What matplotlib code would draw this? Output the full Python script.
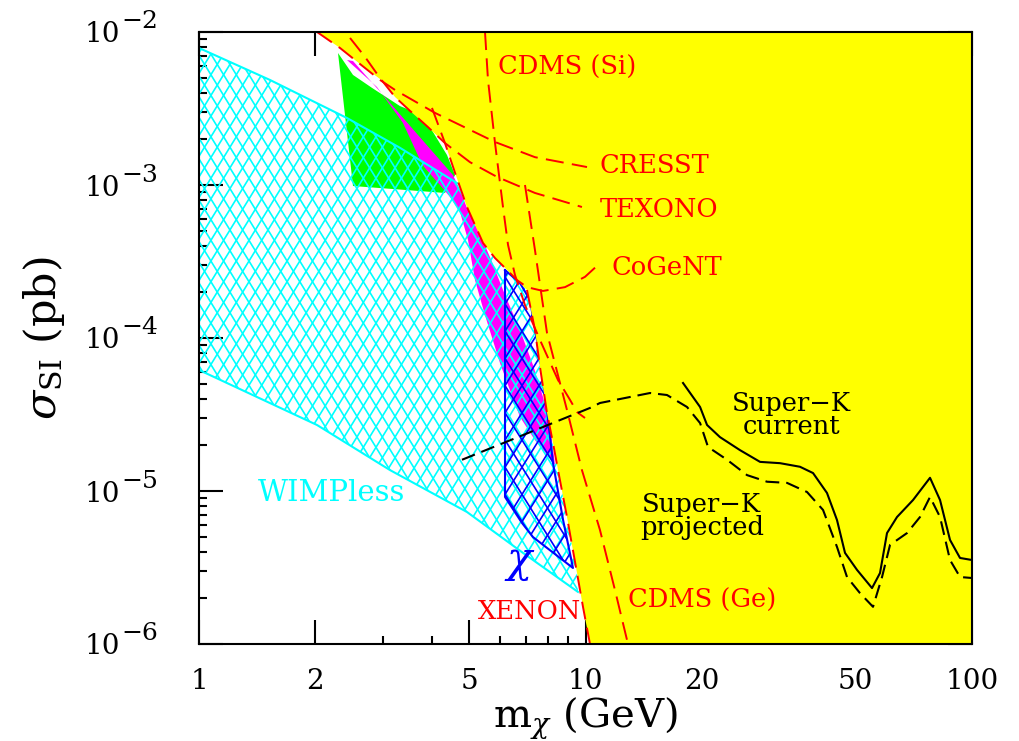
import numpy as np
import matplotlib
matplotlib.use('Agg')
import matplotlib.pyplot as plt
from matplotlib.patches import Polygon
from matplotlib.lines import Line2D
from matplotlib.ticker import FixedLocator, FuncFormatter, LogLocator, NullFormatter

plt.rcParams['font.family'] = 'DejaVu Serif'
plt.rcParams['mathtext.fontset'] = 'dejavuserif'
plt.rcParams['lines.scale_dashes'] = False

# ---- data (mass in GeV, cross section in pb) ----
excluded_mass = [2.02, 2.317, 2.609, 2.94, 3.215, 3.516, 3.913, 4.329, 4.597, 4.936,
                 5.431, 5.833, 6.191, 6.65, 7.056, 7.40, 7.625, 7.95, 8.241, 8.49,
                 8.956, 9.507, 9.851, 10.27]
excluded_sigma = [1.0e-2, 7.86e-3, 6.18e-3, 4.93e-3, 3.76e-3, 3.05e-3, 2.39e-3, 1.88e-3,
                  1.20e-3, 7.18e-4, 4.18e-4, 3.33e-4, 2.87e-4, 2.39e-4, 2.06e-4, 1.13e-4,
                  6.46e-5, 3.24e-5, 2.06e-5, 1.37e-5, 6.76e-6, 2.91e-6, 1.75e-6, 1.0e-6]

cresst_mass = [2.02, 2.317, 2.609, 2.94, 3.215, 4.079, 5.833, 7.40, 10.09]
cresst_sigma = [1.0e-2, 7.86e-3, 6.18e-3, 4.86e-3, 4.18e-3, 2.96e-3, 1.91e-3, 1.52e-3, 1.31e-3]

texono_mass = [2.459, 2.689, 2.94, 3.215, 3.516, 3.913, 4.329, 5.025, 5.902, 7.40, 9.79]
texono_sigma = [9.14e-3, 6.87e-3, 5.00e-3, 3.76e-3, 3.05e-3, 2.39e-3, 1.88e-3, 1.41e-3,
                1.13e-3, 8.87e-4, 7.18e-4]

cogent_mass = [4.007, 4.329, 4.597, 4.936, 5.431, 5.833, 6.191, 6.65, 7.056, 7.762,
               8.851, 9.97, 10.77]
cogent_sigma = [3.19e-3, 1.88e-3, 1.20e-3, 7.18e-4, 4.18e-4, 3.33e-4, 2.87e-4, 2.39e-4,
                2.15e-4, 2.03e-4, 2.15e-4, 2.51e-4, 3.00e-4]

cdms_si_mass = [5.495, 5.594, 5.833, 6.117, 6.303, 6.57, 6.973, 7.625, 8.49, 9.12, 9.507, 9.97]
cdms_si_sigma = [1.0e-2, 4.86e-3, 1.88e-3, 7.18e-4, 4.06e-4, 2.58e-4, 1.64e-4, 9.71e-5,
                 5.31e-5, 3.94e-5, 3.28e-5, 3.00e-5]

cdms_ge_mass = [6.973, 7.40, 7.95, 8.956, 9.79, 10.90, 11.92, 12.88]
cdms_ge_sigma = [1.0e-3, 3.76e-4, 1.08e-4, 3.38e-5, 1.37e-5, 5.56e-6, 2.25e-6, 1.0e-6]

xenon_mass = [7.056, 7.40, 7.625, 7.95, 8.241, 8.49, 8.956, 9.507, 9.851, 10.27]
xenon_sigma = [2.06e-4, 1.13e-4, 6.46e-5, 3.24e-5, 2.06e-5, 1.37e-5, 6.76e-6, 2.91e-6,
               1.75e-6, 1.0e-6]

dama_mass = [2.289, 2.503, 2.804, 3.311, 3.557, 3.96, 4.382, 4.597, 4.329, 2.503]
dama_sigma = [7.29e-3, 5.24e-3, 4.31e-3, 3.28e-3, 3.05e-3, 2.39e-3, 1.57e-3, 1.16e-3,
              8.87e-4, 9.85e-4]

dama_ch_mass = [2.415, 2.503, 3.12, 4.542, 4.735, 4.936, 5.431, 5.73, 6.191, 6.768,
                7.313, 7.762, 8.095, 8.34, 8.095, 7.40, 6.768, 6.303, 6.009, 5.495,
                5.177, 4.966, 4.735, 4.461, 4.203, 3.843, 3.731, 3.372, 2.887]
dama_ch_sigma = [6.56e-3, 6.46e-3, 3.44e-3, 1.16e-3, 9.27e-4, 7.08e-4, 4.31e-4, 3.14e-4,
                 1.91e-4, 1.13e-4, 6.66e-5, 4.12e-5, 2.70e-5, 1.48e-5, 1.64e-5, 2.15e-5,
                 3.05e-5, 4.93e-5, 6.86e-5, 1.41e-4, 2.39e-4, 4.37e-4, 6.66e-4, 8.35e-4,
                 1.0e-3, 1.29e-3, 1.46e-3, 2.54e-3, 4.37e-3]

wimpless_upper_mass = [1.0, 1.526, 2.415, 3.311, 4.651]
wimpless_upper_sigma = [7.86e-3, 4.86e-3, 2.74e-3, 1.75e-3, 1.03e-3]
wimpless_lower_mass = [1.0, 2.02, 3.12, 4.936, 6.89, 9.56]
wimpless_lower_sigma = [6.18e-5, 2.70e-5, 1.37e-5, 7.29e-6, 3.94e-6, 2.19e-6]

neutralino_mass = [6.191, 6.768, 7.183, 7.489, 7.67, 7.95, 8.241, 8.75, 9.28, 7.313, 6.85, 6.191]
neutralino_sigma = [2.78e-4, 2.29e-4, 1.77e-4, 9.71e-5, 6.66e-5, 3.38e-5, 1.52e-5, 6.46e-6,
                    3.14e-6, 5.00e-6, 6.18e-6, 9.14e-6]

superk_now_mass = [17.88, 19.79, 20.63, 22.28, 25.10, 28.29, 31.87, 35.89, 38.79, 42.15,
                   44.74, 46.93, 50.41, 55.12, 57.81, 60.27, 63.97, 70.38, 77.87, 82.66,
                   87.72, 93.11, 100]
superk_now_sigma = [5.08e-5, 3.54e-5, 2.70e-5, 2.25e-5, 1.85e-5, 1.55e-5, 1.52e-5, 1.44e-5,
                    1.31e-5, 9.71e-6, 6.46e-6, 3.94e-6, 3.05e-6, 2.32e-6, 2.91e-6, 5.31e-6,
                    6.76e-6, 8.73e-6, 1.22e-5, 8.73e-6, 4.79e-6, 3.65e-6, 3.54e-6]

superk_proj_mass = [4.791, 6.89, 10.27, 10.90, 14.69, 16.25, 18.31, 19.79, 20.75, 23.24,
                    26.18, 29.49, 33.22, 37.42, 41.17, 44.74, 47.49, 51.31, 55.45, 58.51,
                    61.36, 67.90, 73.36, 77.87, 82.66, 87.72, 93.11, 100]
superk_proj_sigma = [1.60e-5, 2.32e-5, 3.49e-5, 3.76e-5, 4.37e-5, 4.24e-5, 3.54e-5, 2.78e-5,
                     1.94e-5, 1.60e-5, 1.27e-5, 1.15e-5, 1.13e-5, 9.85e-6, 7.52e-6, 4.31e-6,
                     2.74e-6, 2.15e-6, 1.75e-6, 2.74e-6, 4.44e-6, 5.31e-6, 6.76e-6, 9.14e-6,
                     6.76e-6, 3.54e-6, 2.74e-6, 2.70e-6]

x_major_ticks = [1, 2, 5, 10, 20, 50, 100]
x_minor_ticks = [3, 4, 6, 7, 8, 9, 30, 40, 60, 70, 80, 90]
y_exponents = [-6, -5, -4, -3, -2]

RED = '#ff0000'
CYAN = '#00ffff'
BLUE = '#0000ff'
YELLOW = '#ffff00'


def crosshatch(ax, mass, sigma, color, step, slope, lw, z):
    """Diamond cross-hatch (in pixel space) clipped to a polygon in data space."""
    patch = Polygon(np.column_stack([mass, sigma]), closed=True, facecolor='none',
                    edgecolor='none', transform=ax.transData)
    ax.add_patch(patch)
    pos = ax.get_position()
    W = pos.width * fig.get_figwidth() * fig.dpi
    H = pos.height * fig.get_figheight() * fig.dpi
    span = H / slope
    for c in np.arange(-span, W + span, step):
        for sgn in (1, -1):
            ln = Line2D([c / W, (c + sgn * span) / W], [0, 1], transform=ax.transAxes,
                        color=color, lw=lw, zorder=z)
            ln.set_clip_path(patch)
            ax.add_line(ln)


fig = plt.figure(figsize=(10.19, 7.41), dpi=100)
ax = fig.add_axes([199 / 1019, 97 / 741, 773 / 1019, 612 / 741])
ax.set_xscale('log')
ax.set_yscale('log')
ax.set_xlim(1, 100)
ax.set_ylim(1e-6, 1e-2)

# DAMA regions
ax.fill(dama_mass, dama_sigma, color='#00ff00', lw=0, zorder=1)
ax.fill(dama_ch_mass, dama_ch_sigma, color='#ff00ff', lw=0, zorder=2)

# WIMPless region: upper edge, excluded boundary on the right, lower edge back
keep = [(m, s) for m, s in zip(excluded_mass, excluded_sigma)
        if wimpless_lower_sigma[-1] < s < wimpless_upper_sigma[-1] and m > wimpless_upper_mass[-1]]
wl_m = wimpless_upper_mass + [k[0] for k in keep] + wimpless_lower_mass[::-1]
wl_s = wimpless_upper_sigma + [k[1] for k in keep] + wimpless_lower_sigma[::-1]
crosshatch(ax, wl_m, wl_s, CYAN, 12.7, 1.63, 1.2, 3)
ax.plot(wimpless_upper_mass, wimpless_upper_sigma, color=CYAN, lw=1.5, zorder=3)
ax.plot(wimpless_lower_mass, wimpless_lower_sigma, color=CYAN, lw=1.5, zorder=3)

# neutralino region
crosshatch(ax, neutralino_mass, neutralino_sigma, BLUE, 17, 1.6, 1.2, 4)
ax.plot(neutralino_mass + neutralino_mass[:1], neutralino_sigma + neutralino_sigma[:1],
        color=BLUE, lw=1.5, zorder=4)

# excluded region
ax.fill(excluded_mass + [100, 100], excluded_sigma + [1e-6, 1e-2], color=YELLOW, lw=0, zorder=5)

dash = (0, (13, 6))
for m, s in [(cresst_mass, cresst_sigma), (texono_mass, texono_sigma),
             (cogent_mass, cogent_sigma), (cdms_si_mass, cdms_si_sigma),
             (cdms_ge_mass, cdms_ge_sigma), (xenon_mass, xenon_sigma)]:
    ax.plot(m, s, color=RED, lw=1.4, linestyle=dash, zorder=6)

ax.plot(superk_now_mass, superk_now_sigma, color='black', lw=1.5, zorder=7)
ax.plot(superk_proj_mass, superk_proj_sigma, color='black', lw=1.5,
        linestyle=(0, (10, 5)), zorder=7)

# labels
lab = dict(fontsize=18.5, zorder=8, va='center')
ax.text(5.94, 5.90e-3, 'CDMS (Si)', color=RED, ha='left', **lab)
ax.text(10.90, 1.35e-3, 'CRESST', color=RED, ha='left', **lab)
ax.text(10.90, 6.87e-4, 'TEXONO', color=RED, ha='left', **lab)
ax.text(11.71, 2.91e-4, 'CoGeNT', color=RED, ha='left', **lab)
ax.text(12.88, 1.94e-6, 'CDMS (Ge)', color=RED, ha='left', **lab)
ax.text(7.18, 1.62e-6, 'XENON', color=RED, ha='center', **lab)
ax.text(1.421, 9.71e-6, 'WIMPless', color=CYAN, ha='left', fontsize=21, va='center', zorder=8)
ax.text(6.77, 3.44e-6, r'$\chi$', color=BLUE, ha='center', va='center', fontsize=30, zorder=8)
ax.text(34.2, 3.14e-5, 'Super\u2212K\ncurrent', color='black', ha='center', va='center',
        fontsize=18.5, linespacing=0.9, zorder=8)
ax.text(20.0, 6.87e-6, 'Super\u2212K\nprojected', color='black', ha='center', va='center',
        fontsize=18.5, linespacing=0.9, zorder=8)

# axes styling
ax.xaxis.set_major_locator(FixedLocator(x_major_ticks))
ax.xaxis.set_minor_locator(FixedLocator(x_minor_ticks))
ax.xaxis.set_major_formatter(FuncFormatter(lambda v, p: f'{v:g}'))
ax.xaxis.set_minor_formatter(NullFormatter())
ax.yaxis.set_major_locator(LogLocator(base=10, numticks=10))
ax.yaxis.set_minor_locator(LogLocator(base=10, subs=np.arange(2, 10), numticks=20))
ax.yaxis.set_major_formatter(NullFormatter())
ax.yaxis.set_minor_formatter(NullFormatter())
ax.tick_params(which='both', direction='in', top=True, right=True, width=1.5, color='black')
ax.tick_params(which='major', length=17, labelsize=20)
ax.tick_params(axis='x', which='major', pad=17)
ax.tick_params(which='minor', length=6)
for sp in ax.spines.values():
    sp.set_linewidth(1.5)
    sp.set_zorder(10)

# y tick labels: "10" with a near full-size exponent, as in the original
ytrans = ax.get_yaxis_transform()
for e in y_exponents:
    ax.annotate('10', xy=(0, 10.0 ** e), xycoords=ytrans, xytext=(-79, -3),
                textcoords='offset pixels', ha='right', va='center', fontsize=20,
                annotation_clip=False)
    ax.annotate('\u2212%d' % (-e), xy=(0, 10.0 ** e), xycoords=ytrans, xytext=(-78, 10),
                textcoords='offset pixels', ha='left', va='center', fontsize=18,
                annotation_clip=False)

ax.set_xlabel(r'm$_\chi$ (GeV)', fontsize=29)
ax.xaxis.set_label_coords(0.5, -0.084)
ax.set_ylabel(r'$\sigma_{\rm SI}$ (pb)', fontsize=31)
ax.yaxis.set_label_coords(-0.171, 0.5)

fig.savefig('out.png', dpi=100, facecolor='white')
